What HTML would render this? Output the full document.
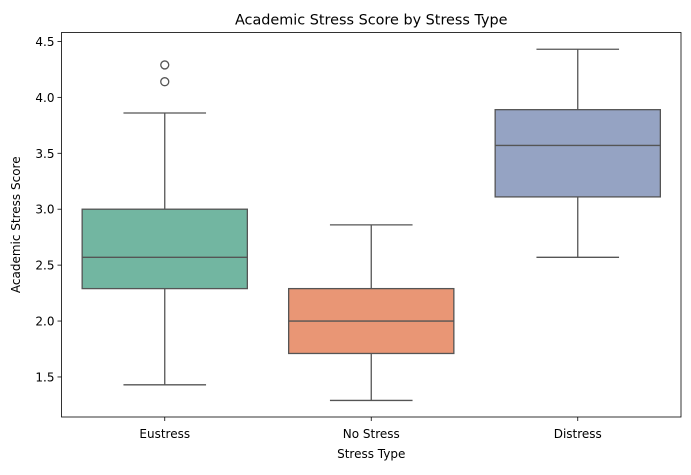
<!DOCTYPE html>
<html><head><meta charset="utf-8"><style>
body{margin:0;background:#fff;font-family:"Liberation Sans","DejaVu Sans",sans-serif;}
svg text{font-family:"DejaVu Sans","Liberation Sans",sans-serif;fill:#000;}
</style></head><body>
<svg id="chart" width="691" height="470" viewBox="0 0 691 470" xmlns="http://www.w3.org/2000/svg"></svg>
<script>
const categories=["Eustress","No Stress","Distress"];
const colors=["#72b6a1","#e99675","#95a3c3"];
const whiskerLow=[1.43,1.29,2.57];
const q1=[2.29,1.71,3.11];
const medians=[2.57,2.0,3.57];
const q3=[3.0,2.29,3.89];
const whiskerHigh=[3.86,2.86,4.43];
const outliers=[[4.14,4.29],[],[]];
const yTicks=[1.5,2.0,2.5,3.0,3.5,4.0,4.5];
const yTickLabels=["1.5","2.0","2.5","3.0","3.5","4.0","4.5"];

const L=61.5,R=681,T=32.5,B=417;
const yMin=1.142,yMax=4.58;
const y=v=>B-(v-yMin)/(yMax-yMin)*(B-T);
const band=(R-L)/categories.length;
const x=i=>L+band*(i+0.5);
const svg=document.getElementById('chart');
const NS="http://www.w3.org/2000/svg";
function mk(tag,attrs,parent){const e=document.createElementNS(NS,tag);for(const k in attrs)e.setAttribute(k,attrs[k]);(parent||svg).appendChild(e);return e;}
const lc="#555";
categories.forEach((c,i)=>{
  const g=mk('g',{});
  
  
  const cx=x(i),hw=band*0.4,cw=band*0.2;
  mk('line',{x1:cx,x2:cx,y1:y(whiskerLow[i]),y2:y(q1[i]),stroke:lc,'stroke-width':1.3},g);
  mk('line',{x1:cx,x2:cx,y1:y(q3[i]),y2:y(whiskerHigh[i]),stroke:lc,'stroke-width':1.3},g);
  mk('line',{x1:cx-cw,x2:cx+cw,y1:y(whiskerLow[i]),y2:y(whiskerLow[i]),stroke:lc,'stroke-width':1.3},g);
  mk('line',{x1:cx-cw,x2:cx+cw,y1:y(whiskerHigh[i]),y2:y(whiskerHigh[i]),stroke:lc,'stroke-width':1.3},g);
  mk('rect',{x:cx-hw,y:y(q3[i]),width:2*hw,height:y(q1[i])-y(q3[i]),fill:colors[i],stroke:lc,'stroke-width':1.3},g);
  mk('line',{x1:cx-hw,x2:cx+hw,y1:y(medians[i]),y2:y(medians[i]),stroke:lc,'stroke-width':1.3},g);
  outliers[i].forEach(o=>{
    const p=mk('circle',{cx:cx,cy:y(o),r:4,fill:'none',stroke:lc,'stroke-width':1.3},g);
    
    
  });
  mk('line',{x1:cx,x2:cx,y1:B,y2:B+4,stroke:'#000','stroke-width':0.8});
  const t=mk('text',{x:cx,y:B+21,'text-anchor':'middle','font-size':12});
  t.textContent=c;
  
  
});
yTicks.forEach((v,i)=>{
  mk('line',{x1:L-4,x2:L,y1:y(v),y2:y(v),stroke:'#000','stroke-width':0.8});
  const t=mk('text',{x:L-7,y:y(v)+4.5,'text-anchor':'end','font-size':12});
  t.textContent=yTickLabels[i];
  
  
});
const frame=mk('rect',{x:L,y:T,width:R-L,height:B-T,fill:'none',stroke:'#000','stroke-width':0.8});


const title=mk('text',{x:(L+R)/2,y:T-8,'text-anchor':'middle','font-size':14.4});
title.textContent="Academic Stress Score by Stress Type";


const xl=mk('text',{x:(L+R)/2,y:458,'text-anchor':'middle','font-size':12});
xl.textContent="Stress Type";


const yl=mk('text',{x:0,y:0,'text-anchor':'middle','font-size':12,transform:`translate(20,${(T+B)/2}) rotate(-90)`});
yl.textContent="Academic Stress Score";


</script>
</body></html>
